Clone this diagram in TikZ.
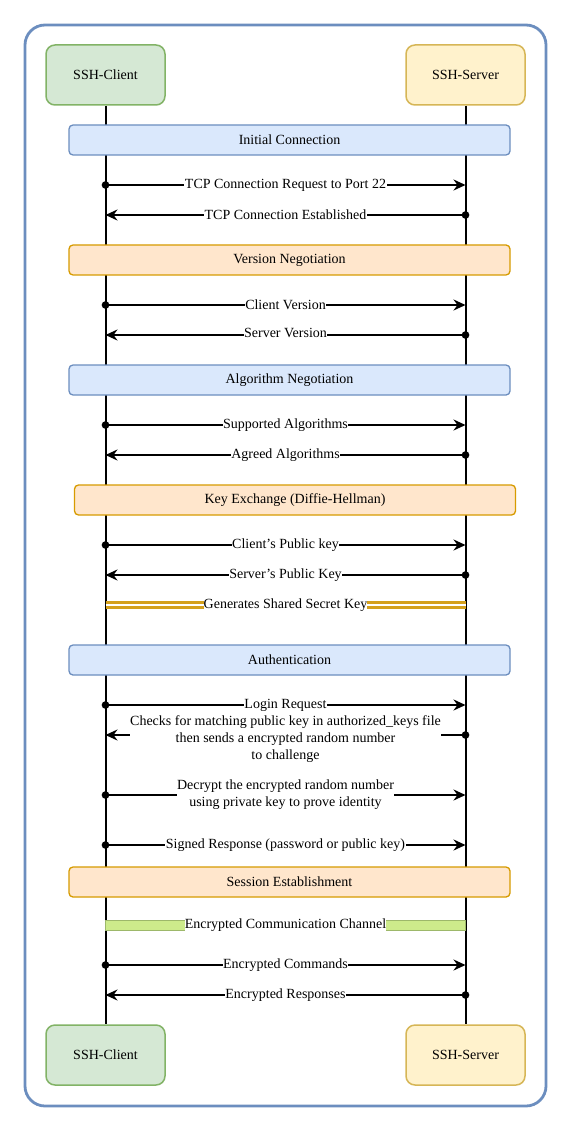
\documentclass[tikz,border=0pt]{standalone}
\usepackage{fontspec}
\setmainfont{Liberation Serif}
\usetikzlibrary{arrows.meta}
\definecolor{frameblue}{HTML}{6C8EBF}
\definecolor{clientfill}{HTML}{D5E8D4}
\definecolor{clientdraw}{HTML}{82B366}
\definecolor{serverfill}{HTML}{FFF2CC}
\definecolor{serverdraw}{HTML}{D6B656}
\definecolor{bluefill}{HTML}{DAE8FC}
\definecolor{orangefill}{HTML}{FFE6CC}
\definecolor{orangedraw}{HTML}{D79B00}
\definecolor{goldline}{RGB}{212,160,28}
\definecolor{chanfill}{HTML}{CDEB8B}
\definecolor{chandraw}{HTML}{9DB86A}
\begin{document}
\begin{tikzpicture}[x=1pt,y=-1pt,
  font=\fontsize{14}{17}\selectfont,
  actor/.style={rounded corners=9pt, line width=1.5pt, minimum width=119pt, minimum height=60pt, inner sep=0pt},
  phase/.style={rounded corners=4pt, line width=1.3pt, minimum width=441pt, minimum height=30pt, inner sep=0pt},
  bluephase/.style={phase, fill=bluefill, draw=frameblue},
  orangephase/.style={phase, fill=orangefill, draw=orangedraw},
  life/.style={line width=2pt, black},
  msg/.style={line width=1.9pt, black, {Circle[length=7.5pt]}-{Stealth[length=12pt,width=11pt,inset=4pt]}, shorten <=-3.75pt},
  lbl/.style={fill=white, inner sep=0.5pt, align=center, text=black},
  goldpair/.style={draw=goldline, double=white, line width=2.4pt, double distance=2.6pt},
]
\fill[white] (0,0) rectangle (571,1131);
\useasboundingbox (0,0) rectangle (571,1131);

% outer frame
\draw[frameblue, line width=2.8pt, rounded corners=20pt] (25,25) rectangle (546,1106);

% actors
\node[actor, fill=clientfill, draw=clientdraw] (c1) at (105.5,75) {SSH-Client};
\node[actor, fill=serverfill, draw=serverdraw] (s1) at (465.5,75) {SSH-Server};
\node[actor, fill=clientfill, draw=clientdraw] (c2) at (105.5,1055) {SSH-Client};
\node[actor, fill=serverfill, draw=serverdraw] (s2) at (465.5,1055) {SSH-Server};

% lifelines
\draw[life] (c1.south) -- (c2.north);
\draw[life] (s1.south) -- (s2.north);

% phases
\node[bluephase] (p1) at (289.5,140) {Initial Connection};
\node[orangephase] (p2) at (289.5,260) {Version Negotiation};
\node[bluephase] (p3) at (289.5,380) {Algorithm Negotiation};
\node[orangephase] (p4) at (295,500) {Key Exchange (Diffie-Hellman)};
\node[bluephase] (p5) at (289.5,660) {Authentication};
\node[orangephase] (p6) at (289.5,882) {Session Establishment};

% message anchor coordinates
\foreach \n/\y in {a/185,b/215,c/305,d/335,e/425,f/455,g/545,h/575,i/605,j/705,k/735,l/795,m/845,n/925,o/965,p/995}{
  \coordinate (c\n) at (105.5,\y);
  \coordinate (s\n) at (465.5,\y);
}

\draw[msg] (ca) -- node[lbl]{TCP Connection Request to Port 22} (sa);
\draw[msg] (sb) -- node[lbl]{TCP Connection Established} (cb);
\draw[msg] (cc) -- node[lbl]{Client Version} (sc);
\draw[msg] (sd) -- node[lbl, yshift=2pt]{Server Version} (cd);
\draw[msg] (ce) -- node[lbl]{Supported Algorithms} (se);
\draw[msg] (sf) -- node[lbl]{Agreed Algorithms} (cf);
\draw[msg] (cg) -- node[lbl]{Client's Public key} (sg);
\draw[msg] (sh) -- node[lbl]{Server's Public Key} (ch);
\draw[goldpair] (ci) -- node[lbl, inner sep=0pt]{Generates Shared Secret Key} (si);
\draw[msg] (cj) -- node[lbl]{Login Request} (sj);
\draw[msg] (sk) -- node[lbl, yshift=-4pt]{Checks for matching public key in authorized\_keys file\\then sends a encrypted random number\\to challenge} (ck);
\draw[msg] (cl) -- node[lbl]{Decrypt the encrypted random number\\using private key to prove identity} (sl);
\draw[msg] (cm) -- node[lbl]{Signed Response (password or public key)} (sm);
\filldraw[fill=chanfill, draw=chandraw, line width=0.6pt] ([yshift=5pt]cn) rectangle ([yshift=-5pt]sn);
\path (cn) -- node[lbl, inner sep=0pt]{Encrypted Communication Channel} (sn);
\draw[msg] (co) -- node[lbl]{Encrypted Commands} (so);
\draw[msg] (sp) -- node[lbl]{Encrypted Responses} (cp);
\end{tikzpicture}
\end{document}
